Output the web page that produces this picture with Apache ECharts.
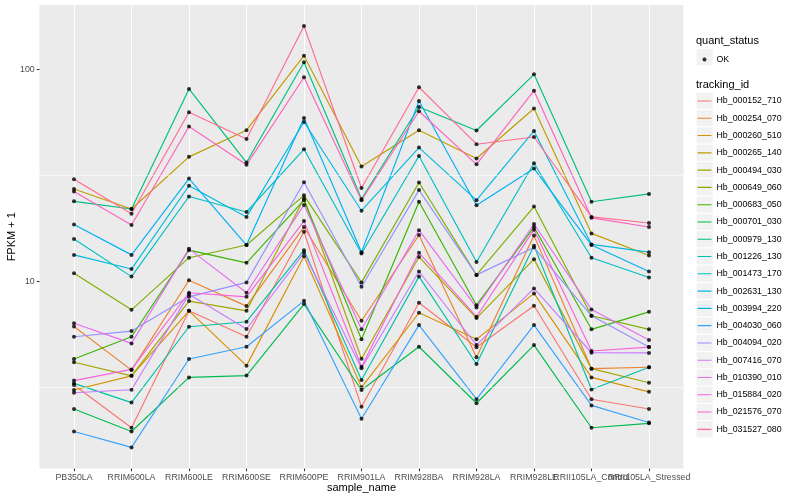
<!DOCTYPE html>
<html><head><meta charset="utf-8">
<script src="https://cdn.jsdelivr.net/npm/echarts@6/dist/echarts.min.js"></script>
<style>html,body{margin:0;padding:0;background:#fff}#c{width:800px;height:500px}</style>
</head><body><div id="c"></div>
<script>
const categories = ['PB350LA','RRIM600LA','RRIM600LE','RRIM600SE','RRIM600PE','RRIM901LA','RRIM928BA','RRIM928LA','RRIM928LE','RRII105LA_Control','RRII105LA_Stressed'];
const trackingIds = ['Hb_000152_710','Hb_000254_070','Hb_000260_510','Hb_000265_140','Hb_000494_030','Hb_000649_060','Hb_000683_050','Hb_000701_030','Hb_000979_130','Hb_001226_130','Hb_001473_170','Hb_002631_130','Hb_003994_220','Hb_004030_060','Hb_004094_020','Hb_007416_070','Hb_010390_010','Hb_015884_020','Hb_021576_070','Hb_031527_080'];
const colors = ['#F8766D','#EA8331','#D89000','#C09B00','#A3A500','#7CAE00','#39B600','#00BB4E','#00BF7D','#00C1A3','#00BFC4','#00BAE0','#00B0F6','#35A2FF','#9590FF','#C77CFF','#E76BF3','#FA62DB','#FF62BC','#FF6C91'];

const hb_000152_710 = [3.23, 2.03, 7.24, 5.46, 17.1, 2.55, 7.90, 4.87, 7.65, 2.77, 2.49];
const hb_000254_070 = [6.11, 3.80, 10.1, 7.62, 18.0, 6.50, 16.5, 4.37, 16.4, 3.86, 3.92];
const hb_000260_510 = [3.06, 3.57, 7.24, 3.99, 13.1, 3.15, 7.09, 5.31, 8.75, 3.51, 3.00];
const hb_000265_140 = [27.2, 21.9, 38.6, 51.6, 116, 34.8, 51.6, 37.9, 65.3, 16.8, 13.2];
const hb_000494_030 = [4.14, 3.57, 8.05, 7.24, 24.6, 4.30, 13.0, 6.69, 12.7, 3.86, 3.31];
const hb_000649_060 = [10.9, 7.32, 12.9, 14.8, 25.4, 9.86, 29.2, 10.7, 22.5, 6.86, 5.92];
const hb_000683_050 = [4.29, 5.46, 14.0, 12.2, 24.1, 5.31, 23.7, 7.70, 18.0, 5.92, 7.16];
const hb_000701_030 = [2.49, 1.95, 3.51, 3.58, 7.79, 3.06, 4.90, 2.65, 4.99, 2.03, 2.13];
const hb_000979_130 = [23.8, 21.9, 80.8, 36.3, 108, 24.4, 66.4, 51.4, 94.7, 23.7, 25.8];
const hb_001226_130 = [3.29, 2.67, 6.09, 6.43, 14.0, 3.41, 10.5, 4.06, 14.7, 3.08, 3.92];
const hb_001473_170 = [15.8, 10.5, 25.1, 21.2, 41.9, 13.5, 39.0, 12.3, 36.0, 12.9, 10.4];
const hb_002631_130 = [13.3, 11.4, 28.2, 20.1, 56.4, 21.5, 42.7, 24.1, 51.2, 14.9, 13.7];
const hb_003994_220 = [18.5, 13.3, 30.5, 14.8, 58.9, 13.7, 70.9, 22.8, 34.0, 14.8, 11.1];
const hb_004030_060 = [1.95, 1.64, 4.29, 4.90, 8.07, 2.24, 6.20, 2.77, 6.20, 2.59, 2.15];
const hb_004094_020 = [5.46, 5.81, 8.43, 9.86, 29.3, 9.40, 26.9, 10.7, 14.4, 6.86, 4.88];
const hb_007416_070 = [2.97, 3.07, 8.66, 5.94, 13.6, 3.88, 11.1, 4.99, 9.24, 4.59, 4.58];
const hb_010390_010 = [6.32, 5.08, 14.2, 8.81, 22.9, 5.92, 17.4, 7.51, 18.6, 7.35, 5.27];
const hb_015884_020 = [3.39, 3.83, 8.81, 8.43, 19.2, 3.94, 13.6, 6.79, 17.5, 4.68, 4.88];
const hb_021576_070 = [26.5, 18.4, 53.7, 35.4, 91.7, 24.1, 63.4, 35.6, 79.3, 19.9, 18.0];
const hb_031527_080 = [30.3, 20.8, 62.7, 46.9, 160, 27.5, 82.3, 44.3, 47.9, 20.1, 18.8];

const seriesValues = [hb_000152_710, hb_000254_070, hb_000260_510, hb_000265_140, hb_000494_030,
  hb_000649_060, hb_000683_050, hb_000701_030, hb_000979_130, hb_001226_130, hb_001473_170,
  hb_002631_130, hb_003994_220, hb_004030_060, hb_004094_020, hb_007416_070, hb_010390_010,
  hb_015884_020, hb_021576_070, hb_031527_080];

const yTicks = [10, 100];
const yMinorTicks = [3.1623, 31.623];
const yRange = [1.304, 201.2];

const FONT = 'Liberation Sans, Arial, Helvetica, sans-serif';
const chart = echarts.init(document.getElementById('c'), null, {renderer: 'canvas'});

const keySize = 17.28;
const legendTop = 92.36;
const keyX = 696.0;
const graphics = [
  {type: 'text', left: 696, top: 35.2, style: {text: 'quant_status', fontSize: 11, fill: '#000', fontFamily: FONT}},
  {type: 'text', left: 696, top: 79.5, style: {text: 'tracking_id', fontSize: 11, fill: '#000', fontFamily: FONT}},
  {type: 'rect', shape: {x: keyX, y: 57 - keySize / 2, width: keySize, height: keySize}, style: {fill: '#F2F2F2', stroke: '#fff', lineWidth: 1}, z: 0}
];
for (let i = 0; i < trackingIds.length; i++) {
  graphics.push({type: 'rect', shape: {x: keyX, y: legendTop + i * keySize, width: keySize, height: keySize},
    style: {fill: '#F2F2F2', stroke: '#fff', lineWidth: 1}, z: 0});
}

// legend dot icon: a small disc centred in a 14 x 4 box
let dotPath = 'path://M0,0h0.01v0.01h-0.01z';
for (let k = 0; k <= 24; k++) {
  const a = (k / 24) * Math.PI * 2;
  const px = (7 + 2 * Math.cos(a)).toFixed(3), py = (2 + 2 * Math.sin(a)).toFixed(3);
  dotPath += (k === 0 ? 'M' : 'L') + px + ',' + py;
}
dotPath += 'zM13.99,3.99h0.01v0.01h-0.01z';

const lineSeries = trackingIds.map((id, i) => ({
  type: 'line', name: id, data: seriesValues[i], xAxisIndex: 0, yAxisIndex: 0,
  color: colors[i], lineStyle: {width: 1.15, color: colors[i]},
  showSymbol: false, symbol: 'none', silent: true, z: 2
}));

const pointData = [];
seriesValues.forEach(arr => arr.forEach((v, j) => pointData.push([j, v])));

const tickLabelFmt = v => (Math.abs(v - 10) < 0.01 || Math.abs(v - 100) < 0.1) ? String(Math.round(v)) : '';

const option = {
  animation: false,
  textStyle: {fontFamily: FONT},
  grid: [
    {left: 74, right: 151, top: 5, bottom: 31.5, outerBoundsMode: 'none', containLabel: false},
    {left: 39.5, right: 116.5, top: 5, bottom: 31.5, show: true, backgroundColor: '#EBEBEB', borderWidth: 0, outerBoundsMode: 'none', containLabel: false}
  ],
  xAxis: [
    {type: 'category', gridIndex: 0, data: categories, boundaryGap: false,
      axisLine: {show: false},
      axisTick: {show: true, interval: 0, length: 2.75, lineStyle: {color: '#333333', width: 1.07}},
      axisLabel: {interval: 0, color: '#4D4D4D', fontSize: 8.8, margin: 4.8, fontFamily: FONT, hideOverlap: false},
      splitLine: {show: true, interval: 0, lineStyle: {color: '#FFFFFF', width: 1.07}},
      name: 'sample_name', nameLocation: 'middle', nameGap: 14, nameMoveOverlap: false,
      nameTextStyle: {color: '#000', fontSize: 11, fontFamily: FONT}},
    {type: 'value', gridIndex: 1, min: 0, max: 1, show: false}
  ],
  yAxis: [
    {type: 'log', logBase: 10, gridIndex: 0, min: yRange[0], max: yRange[1], show: false, splitLine: {show: false}},
    {type: 'log', logBase: 10, gridIndex: 1, min: yRange[0], max: yRange[1],
      axisLine: {show: false},
      axisTick: {show: true, length: 2.75, customValues: yTicks, lineStyle: {color: '#333333', width: 1.07}},
      axisLabel: {customValues: yTicks, formatter: tickLabelFmt, color: '#4D4D4D', fontSize: 8.8, margin: 4.8, fontFamily: FONT},
      splitLine: {show: true, showMinLine: false, showMaxLine: false, lineStyle: {color: '#FFFFFF', width: 1.07}},
      name: 'FPKM + 1', nameLocation: 'middle', nameGap: 22, nameMoveOverlap: false,
      nameTextStyle: {color: '#000', fontSize: 11, fontFamily: FONT}}
  ],
  legend: [
    {data: ['OK'], orient: 'vertical', left: 697.5, top: 55, itemWidth: 14, itemHeight: 4, icon: dotPath,
      itemStyle: {borderWidth: 0, color: '#000'},
      selectedMode: false, padding: 0, textStyle: {fontSize: 8.8, color: '#000', fontFamily: FONT}},
    {data: trackingIds, orient: 'vertical', left: 697.5, top: legendTop, itemWidth: 14, itemHeight: keySize, itemGap: 0,
      icon: 'path://M0,0h0.01v0.01h-0.01zM0,8.1h14v1.1H0zM13.99,17.27h0.01v0.01h-0.01z',
      itemStyle: {borderWidth: 0}, lineStyle: {width: 0},
      selectedMode: false, padding: 0, textStyle: {fontSize: 8.8, color: '#000', fontFamily: FONT}}
  ],
  graphic: graphics,
  series: [
    {type: 'line', xAxisIndex: 1, yAxisIndex: 1, data: [], silent: true, z: 1,
      markLine: {silent: true, symbol: 'none', label: {show: false}, animation: false,
        lineStyle: {color: '#FFFFFF', width: 0.55, type: 'solid'},
        data: yMinorTicks.map(v => ({yAxis: v}))}},
    ...lineSeries,
    {type: 'scatter', name: 'OK', data: pointData, xAxisIndex: 0, yAxisIndex: 0,
      symbol: 'circle', symbolSize: 4, itemStyle: {color: '#000000'}, silent: true, z: 3}
  ]
};
chart.setOption(option);
</script>
</body></html>
